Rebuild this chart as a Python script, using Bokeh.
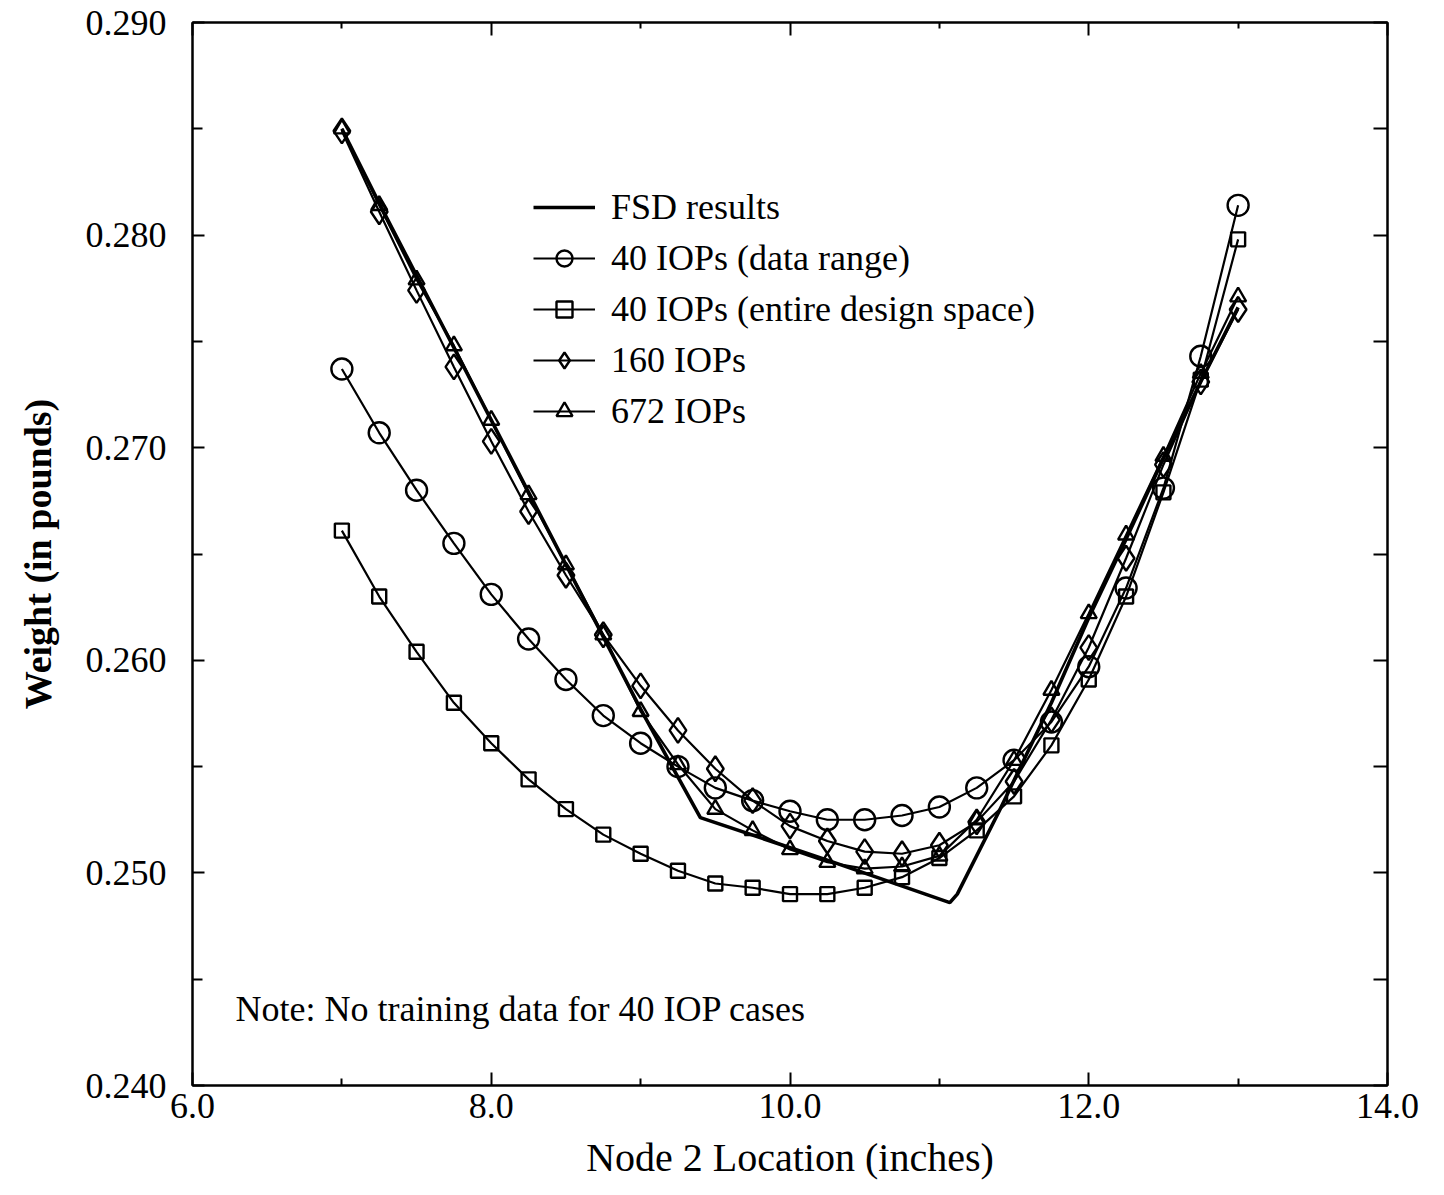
from bokeh.plotting import figure
from bokeh.models import (LinearAxis, Legend, LegendItem, FixedTicker, PrintfTickFormatter,
                          CustomJSTickFormatter, Label, Range1d)
from bokeh.embed import file_html
from bokeh.resources import INLINE

FONT = "Liberation Serif"

# ---------------- data ----------------
node_x = [7.0, 7.25, 7.5, 7.75, 8.0, 8.25, 8.5, 8.75, 9.0, 9.25, 9.5, 9.75, 10.0,
          10.25, 10.5, 10.75, 11.0, 11.25, 11.5, 11.75, 12.0, 12.25, 12.5, 12.75, 13.0]

iop40_data = [0.2737, 0.2707, 0.2680, 0.2655, 0.2631, 0.2610, 0.2591, 0.2574, 0.2561,
              0.2550, 0.2540, 0.2534, 0.2529, 0.2525, 0.2525, 0.2527, 0.2531, 0.2540,
              0.2553, 0.2571, 0.2597, 0.2634, 0.2681, 0.2743, 0.2814]

iop40_entire = [0.2661, 0.2630, 0.2604, 0.2580, 0.2561, 0.2544, 0.2530, 0.2518, 0.2509,
                0.2501, 0.2495, 0.2493, 0.2490, 0.2490, 0.2493, 0.2498, 0.2507, 0.2520,
                0.2536, 0.2560, 0.2591, 0.2630, 0.2679, 0.2732, 0.2798]

iop160 = [0.2849, 0.2811, 0.2774, 0.2738, 0.2703, 0.2670, 0.2640, 0.2612, 0.2588,
          0.2567, 0.2549, 0.2534, 0.2522, 0.2515, 0.2510, 0.2509, 0.2513, 0.2524,
          0.2543, 0.2572, 0.2606, 0.2648, 0.2692, 0.2731, 0.2765]

iop672 = [0.2850, 0.2814, 0.2779, 0.2748, 0.2713, 0.2678, 0.2645, 0.2612, 0.2576,
          0.2551, 0.2530, 0.2520, 0.2511, 0.2505, 0.2502, 0.2503, 0.2508, 0.2525,
          0.2553, 0.2586, 0.2622, 0.2659, 0.2696, 0.2735, 0.2771]

fsd_x = [7.0, 7.25, 7.5, 7.75, 8.0, 8.25, 8.5, 8.75, 9.0, 9.25, 9.4, 10.25, 11.07,
         11.12, 11.4, 11.75, 12.0, 12.25, 12.5, 12.75, 13.0]
fsd_y = [0.2850, 0.2815, 0.2781, 0.2747, 0.2713, 0.2679, 0.2645, 0.2611, 0.2577,
         0.2545, 0.2526, 0.2506, 0.2486, 0.2490, 0.2529, 0.2580, 0.2620, 0.2657,
         0.2695, 0.2731, 0.2766]

x_ticks = [6.0, 8.0, 10.0, 12.0, 14.0]
x_minor = [7.0, 9.0, 11.0, 13.0]
y_ticks = [0.240, 0.250, 0.260, 0.270, 0.280, 0.290]
y_minor = [0.245, 0.255, 0.265, 0.275, 0.285]

legend_labels = ["FSD results", "40 IOPs (data range)", "40 IOPs (entire design space)",
                 "160 IOPs", "672 IOPs"]
note_text = "Note: No training data for 40 IOP cases"

# ---------------- figure ----------------
p = figure(width=1444, height=1195, x_range=Range1d(6.0, 14.0), y_range=Range1d(0.240, 0.290),
           output_backend="svg", toolbar_location=None,
           min_border_left=192, min_border_right=57, min_border_top=22, min_border_bottom=110,
           x_axis_location=None, y_axis_location=None)
p.grid.visible = False
p.outline_line_color = "black"
p.outline_line_width = 2
p.background_fill_color = "white"
p.border_fill_color = "white"

def style_axis(ax, ticks, minor, major_len, minor_len, fmt, show_labels):
    ax.ticker = FixedTicker(ticks=ticks, minor_ticks=minor)
    ax.axis_line_color = "black"
    ax.axis_line_width = 2
    ax.major_tick_line_color = "black"
    ax.major_tick_line_width = 2
    ax.minor_tick_line_color = "black"
    ax.minor_tick_line_width = 2
    ax.major_tick_in = major_len
    ax.major_tick_out = 0
    ax.minor_tick_in = minor_len
    ax.minor_tick_out = 0
    if show_labels:
        ax.formatter = PrintfTickFormatter(format=fmt)
        ax.major_label_text_font = FONT
        ax.major_label_text_font_size = "36px"
        ax.major_label_text_color = "black"
    else:
        ax.formatter = CustomJSTickFormatter(code="return ''")

xb = LinearAxis(axis_label="Node 2 Location (inches)")
style_axis(xb, x_ticks, x_minor, 13, 7, "%.1f", True)
xb.major_label_standoff = 8
xb.axis_label_standoff = 14
xb.axis_label_text_font = FONT
xb.axis_label_text_font_size = "40px"
xb.axis_label_text_font_style = "normal"
xb.axis_label_text_color = "black"
p.add_layout(xb, "below")

xt = LinearAxis()
style_axis(xt, x_ticks, x_minor, 13, 6, "", False)
p.add_layout(xt, "above")

yl = LinearAxis(axis_label="Weight (in pounds)")
style_axis(yl, y_ticks, y_minor, 12, 10, "%.3f", True)
yl.major_label_standoff = 26
yl.axis_label_standoff = 24
yl.axis_label_text_font = FONT
yl.axis_label_text_font_size = "38px"
yl.axis_label_text_font_style = "bold"
yl.axis_label_text_color = "black"
p.add_layout(yl, "left")

yr = LinearAxis()
style_axis(yr, y_ticks, y_minor, 14, 14, "", False)
p.add_layout(yr, "right")

# ---------------- series ----------------
LW = 2.2
fsd = p.line(fsd_x, fsd_y, line_color="black", line_width=3.6)

l1 = p.line(node_x, iop40_data, line_color="black", line_width=LW)
m1 = p.scatter(node_x, iop40_data, marker="circle", size=21, line_color="black",
               line_width=2.4, fill_alpha=0)

l2 = p.line(node_x, iop40_entire, line_color="black", line_width=LW)
m2 = p.scatter(node_x, iop40_entire, marker="square", size=14, line_color="black",
               line_width=2.4, fill_alpha=0)

l3 = p.line(node_x, iop160, line_color="black", line_width=LW)
m3 = p.scatter(node_x, iop160, marker="diamond", size=25, line_color="black",
               line_width=2.4, fill_alpha=0)

l4 = p.line(node_x, iop672, line_color="black", line_width=LW)
m4 = p.scatter(node_x, iop672, marker="triangle", size=16, line_color="black",
               line_width=2.4, fill_alpha=0)

legend = Legend(items=[
    LegendItem(label=legend_labels[0], renderers=[fsd]),
    LegendItem(label=legend_labels[1], renderers=[l1, m1]),
    LegendItem(label=legend_labels[2], renderers=[l2, m2]),
    LegendItem(label=legend_labels[3], renderers=[l3, m3]),
    LegendItem(label=legend_labels[4], renderers=[l4, m4]),
], location=(341, 653))
legend.label_text_font = FONT
legend.label_text_font_size = "36px"
legend.label_text_color = "black"
legend.glyph_width = 62
legend.glyph_height = 40
legend.label_height = 40
legend.spacing = 9
legend.padding = 0
legend.margin = 0
legend.label_standoff = 16
legend.background_fill_alpha = 0
legend.border_line_alpha = 0
p.add_layout(legend)

note = Label(x=6.288, y=0.2436, text=note_text, text_font=FONT, text_font_size="36px",
             text_color="black", text_baseline="middle", text_align="left")
p.add_layout(note)

open("out.html", "w").write(file_html(p, INLINE))
